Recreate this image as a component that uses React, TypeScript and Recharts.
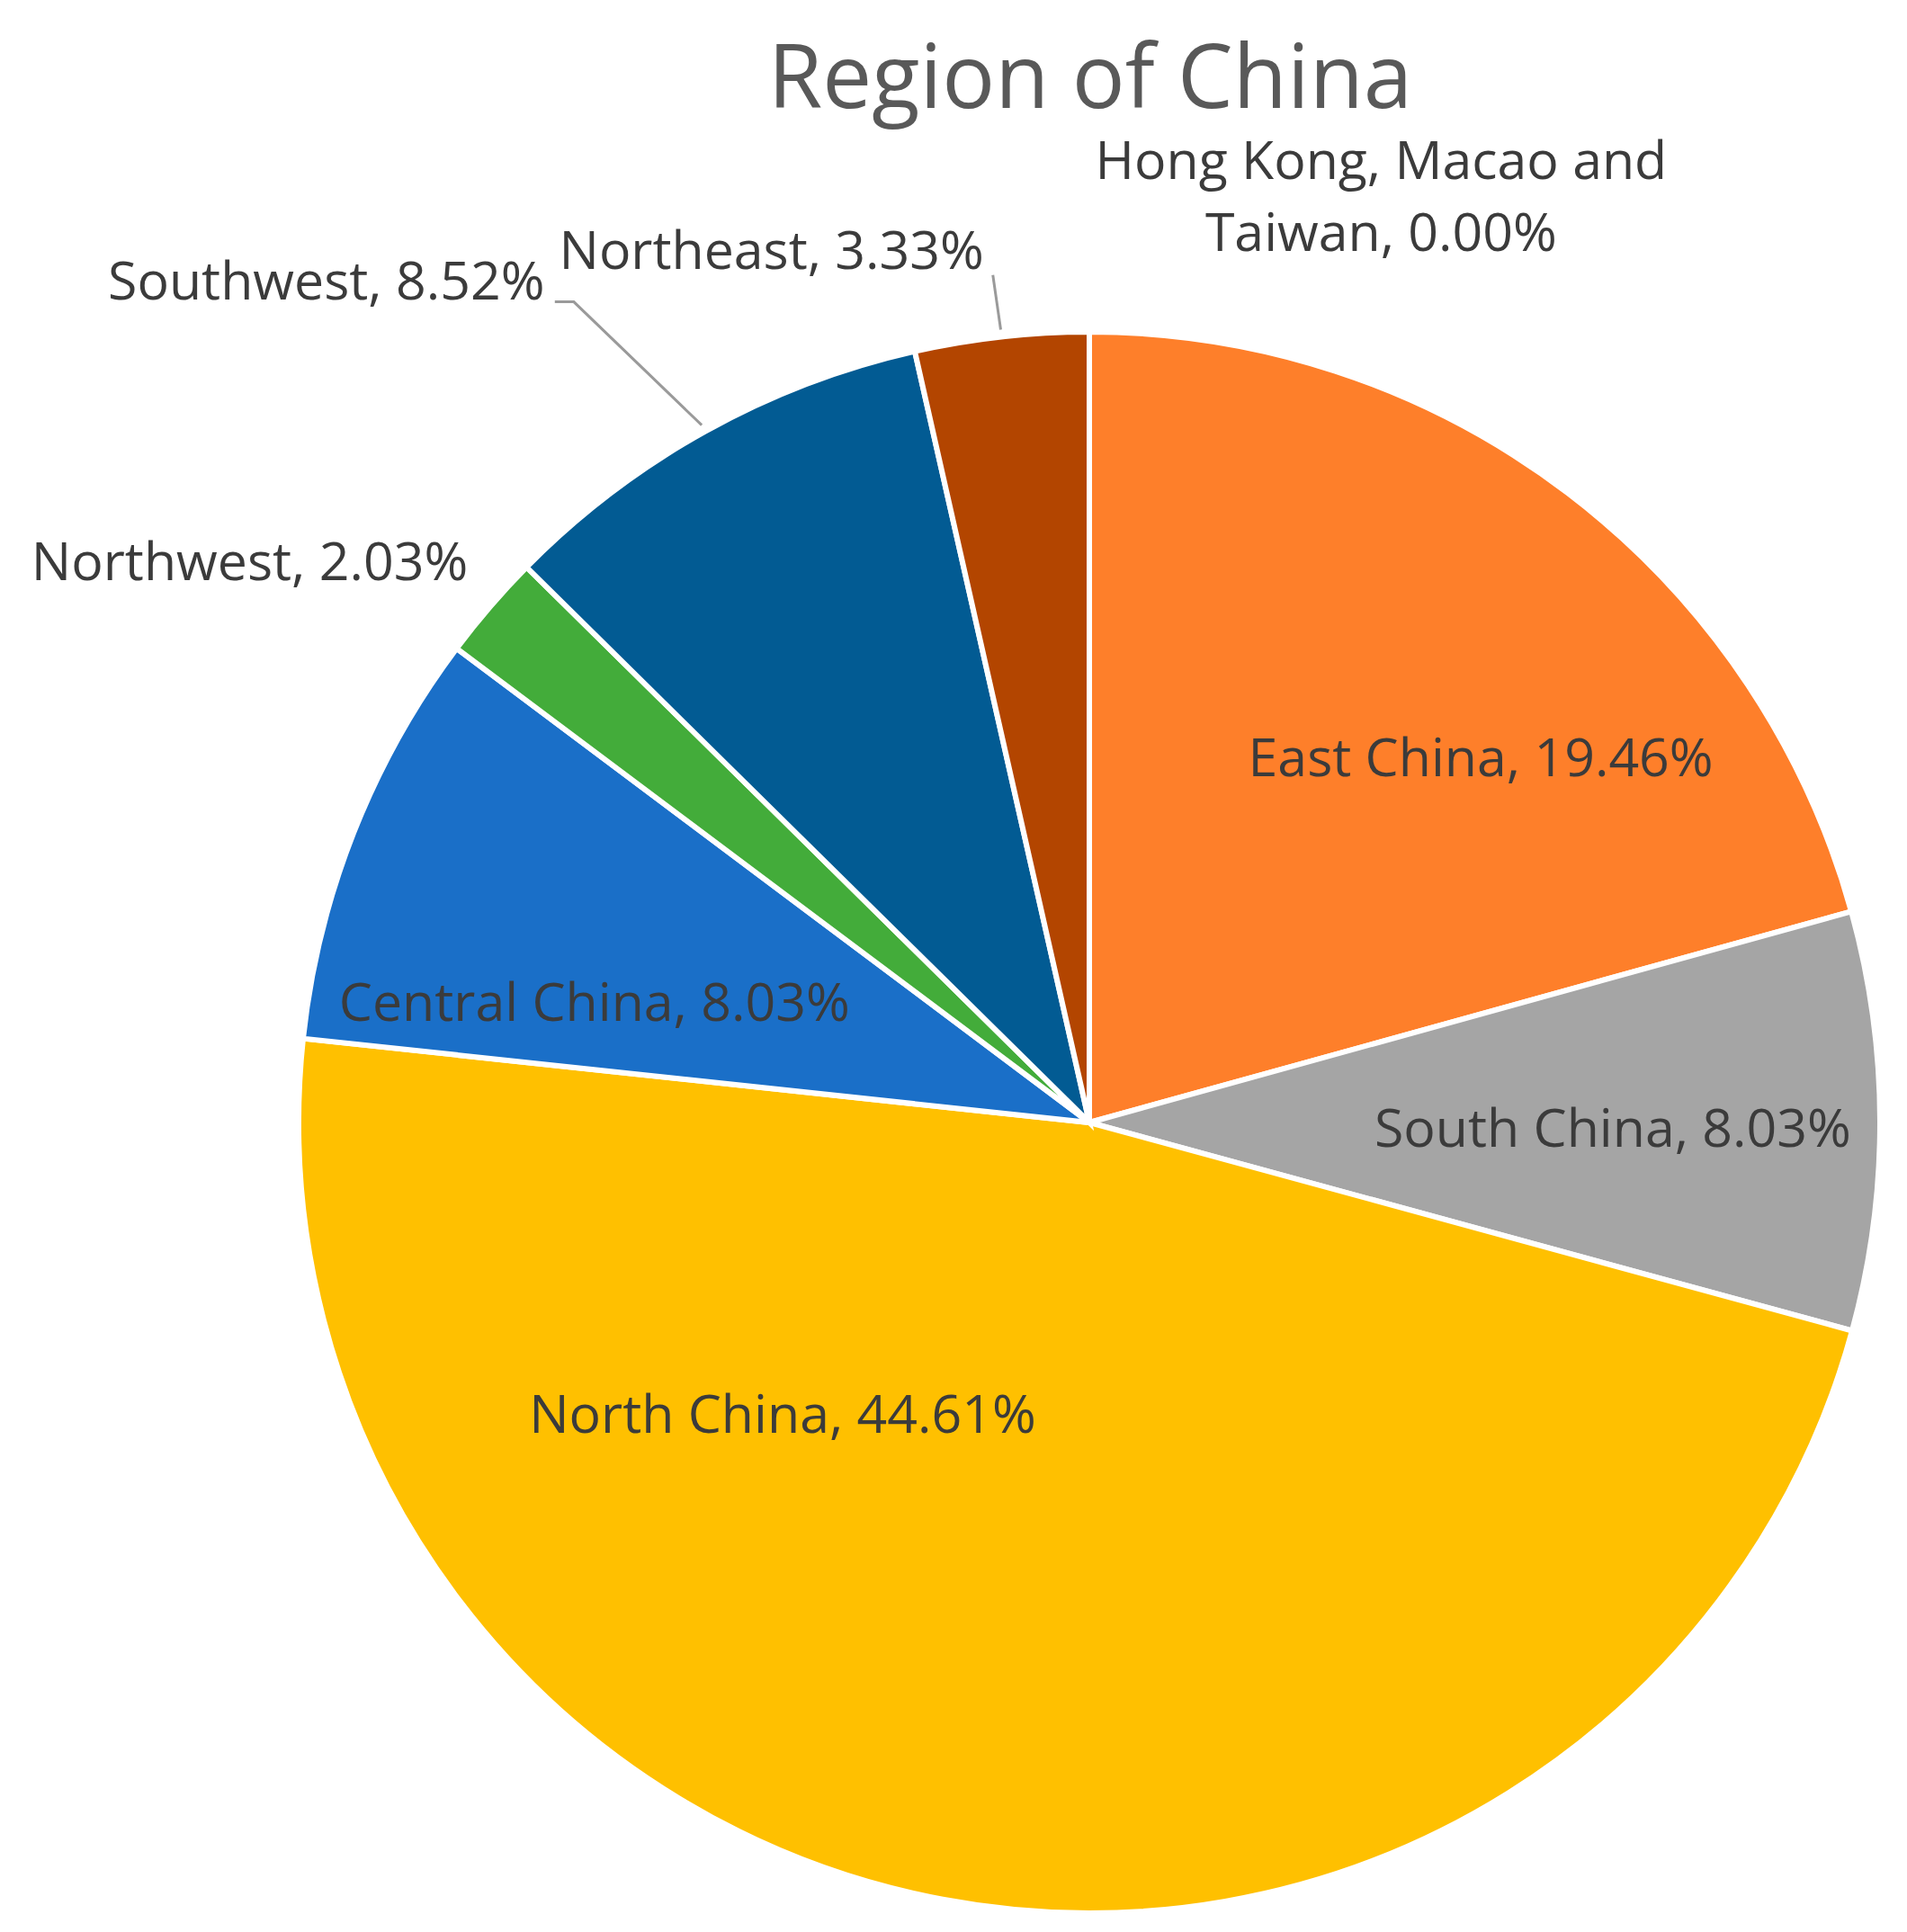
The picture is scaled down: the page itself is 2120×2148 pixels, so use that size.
import React from 'react';
import { PieChart, Pie, Cell } from 'recharts';

const regions = [
  'East China',
  'South China',
  'North China',
  'Central China',
  'Northwest',
  'Southwest',
  'Northeast',
  'Hong Kong, Macao and Taiwan',
];
const shares = [19.46, 8.03, 44.61, 8.03, 2.03, 8.52, 3.33, 0.0];
const sliceColors = ['#FE7F2A', '#A5A5A5', '#FFC000', '#1A6FC8', '#43AC3A', '#025B93', '#B34500', '#7F7F7F'];

const data = regions.map((name, i) => ({ name, value: shares[i] }));

// where each label sits, relative to the pie centre, in units of the outer radius
const labelSpots = [
  { fx: 0.495, fy: -0.462 },
  { fx: 0.662, fy: 0.007 },
  { fx: -0.388, fy: 0.369 },
  { fx: -0.626, fy: -0.153 },
  { fx: -1.062, fy: -0.71 },
  { fx: -0.965, fy: -1.065, leader: [{ fx: -0.652, fy: -1.038 }, { fx: -0.676, fy: -1.038 }] },
  { fx: -0.402, fy: -1.104, leader: [{ fx: -0.122, fy: -1.072 }] },
  { fx: 0.369, fy: -1.172 },
];

const FONT = '"Open Sans", "Noto Sans", sans-serif';
const LABEL_SIZE = 59;
const RAD = Math.PI / 180;

const wrap = (text: string, max: number) => {
  const words = text.split(' ');
  const lines: string[] = [];
  let cur = '';
  words.forEach((w) => {
    const next = cur ? cur + ' ' + w : w;
    if (next.length > max && cur) {
      lines.push(cur);
      cur = w;
    } else {
      cur = next;
    }
  });
  if (cur) lines.push(cur);
  return lines;
};

const renderLabel = (props: any) => {
  const { cx, cy, outerRadius, midAngle, index, name, value } = props;
  const spot = labelSpots[index];
  const x = cx + spot.fx * outerRadius;
  const y = cy + spot.fy * outerRadius;
  const lines = wrap(`${name}, ${Number(value).toFixed(2)}%`, 22);
  const lineGap = 80;
  const top = y - ((lines.length - 1) * lineGap) / 2 + LABEL_SIZE * 0.357;

  let leader = null;
  if (spot.leader) {
    const r = outerRadius + 8;
    const sx = cx + r * Math.cos(-midAngle * RAD);
    const sy = cy + r * Math.sin(-midAngle * RAD);
    const pts = [[sx, sy], ...spot.leader.map((p) => [cx + p.fx * outerRadius, cy + p.fy * outerRadius])];
    leader = (
      <polyline
        points={pts.map((p) => p.join(',')).join(' ')}
        fill="none"
        stroke="#9A9A9A"
        strokeWidth={3}
      />
    );
  }

  return (
    <g key={`lbl-${index}`}>
      {leader}
      <text
        x={x}
        y={top}
        textAnchor="middle"
        fill="#3B3B3B"
        fontSize={LABEL_SIZE}
        fontFamily={FONT}
      >
        {lines.map((ln, i) => (
          <tspan key={i} x={x} dy={i === 0 ? 0 : lineGap}>
            {ln}
          </tspan>
        ))}
      </text>
    </g>
  );
};

export default function App() {
  return (
    <div style={{ position: 'absolute', left: 0, top: 0, width: 2120, height: 2148, background: '#fff' }}>
      <div
        style={{
          position: 'absolute',
          top: 33,
          left: 0,
          width: 2424,
          textAlign: 'center',
          fontFamily: FONT,
          fontSize: 98,
          lineHeight: 1,
          color: '#595959',
        }}
      >
        Region of China
      </div>
      <PieChart width={2120} height={2148}>
        <Pie
          data={data}
          dataKey="value"
          nameKey="name"
          cx={1206}
          cy={1243}
          outerRadius={879}
          startAngle={90}
          endAngle={-270}
          stroke="#fff"
          strokeWidth={6}
          label={renderLabel}
          labelLine={false}
          isAnimationActive={false}
        >
          {data.map((entry, index) => (
            <Cell key={`cell-${index}`} fill={sliceColors[index]} />
          ))}
        </Pie>
      </PieChart>
    </div>
  );
}
